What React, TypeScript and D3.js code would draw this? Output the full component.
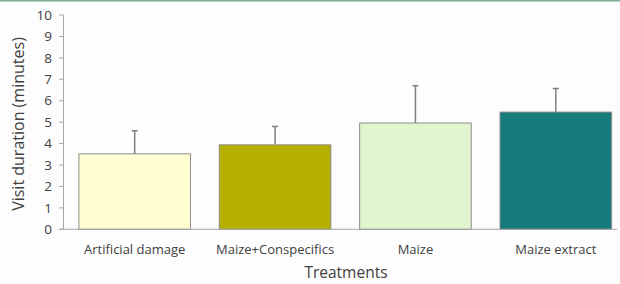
import React from "react";
import * as d3 from "d3";

const categories = ["Artificial damage", "Maize+Conspecifics", "Maize", "Maize extract"];
const means = [3.52, 3.94, 4.96, 5.47];
const upperErrors = [1.08, 0.86, 1.74, 1.1];
const barColors = ["#fefed2", "#b5af00", "#e1f5cf", "#177b7b"];
const yTicks = [0, 1, 2, 3, 4, 5, 6, 7, 8, 9, 10];

const W = 620;
const H = 284;
const FONT = "'Open Sans', 'Noto Sans', sans-serif";

export default function App() {
  const x = d3.scaleBand<string>().domain(categories).range([64.5, 626]).paddingInner(0.205).paddingOuter(0.1025);
  const y = d3.scaleLinear().domain([0, 10]).range([229.3, 15]);
  const axisColor = "#a6a6a6";
  const textColor = "#404040";
  return (
    <svg width={W} height={H} style={{ position: "absolute", left: 0, top: 0, background: "#fdfdfd" }}>
      <rect x={0} y={0} width={W} height={H} fill="#fdfdfd" />
      <line x1={0} x2={W} y1={0.8} y2={0.8} stroke="#7fae93" strokeWidth={1.6} />
      {/* y axis */}
      <line x1={63.5} x2={63.5} y1={y(10)} y2={y(0)} stroke={axisColor} strokeWidth={1} />
      {yTicks.map((t) => (
        <g key={t}>
          <line x1={59} x2={63.5} y1={y(t)} y2={y(t)} stroke={axisColor} strokeWidth={1} />
          <text x={52} y={y(t)} dy="0.35em" textAnchor="end" fontFamily={FONT} fontSize={13.5} fill={textColor}>
            {t}
          </text>
        </g>
      ))}
      {/* bars */}
      {categories.map((c, i) => {
        const bx = x(c)!;
        const bw = x.bandwidth();
        const cx = bx + bw / 2;
        return (
          <g key={c}>
            <line x1={cx} x2={cx} y1={y(means[i])} y2={y(means[i] + upperErrors[i])} stroke="#7f7f7f" strokeWidth={1.5} />
            <line x1={cx - 3} x2={cx + 3} y1={y(means[i] + upperErrors[i])} y2={y(means[i] + upperErrors[i])} stroke="#7f7f7f" strokeWidth={1.5} />
            <rect x={bx} y={y(means[i])} width={bw} height={y(0) - y(means[i])} fill={barColors[i]} stroke="#8c8c8c" strokeWidth={1} />
          </g>
        );
      })}
      {/* baseline */}
      <line x1={59} x2={617} y1={y(0)} y2={y(0)} stroke={axisColor} strokeWidth={1} />
      {categories.map((c) => (
        <text key={c} x={x(c)! + x.bandwidth() / 2} y={254} textAnchor="middle" fontFamily={FONT} fontSize={13} fill={textColor}>
          {c}
        </text>
      ))}
      <text x={346} y={278} textAnchor="middle" fontFamily={FONT} fontSize={15.5} fill={textColor}>
        Treatments
      </text>
      <text transform={`translate(24,124) rotate(-90)`} textAnchor="middle" fontFamily={FONT} fontSize={16} fill={textColor}>
        Visit duration (minutes)
      </text>
    </svg>
  );
}
